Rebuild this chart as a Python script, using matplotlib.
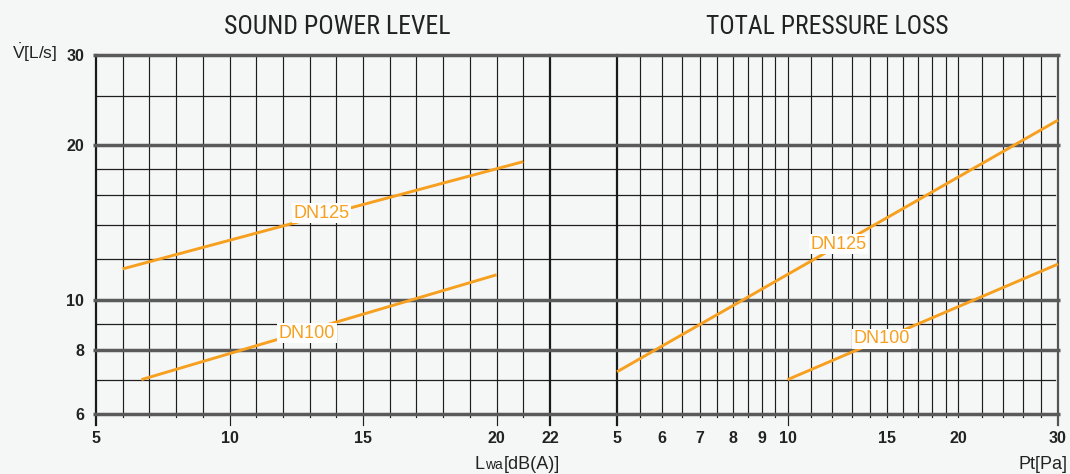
import matplotlib
matplotlib.use('Agg')
import matplotlib.pyplot as plt
from matplotlib import font_manager, transforms
from matplotlib.lines import Line2D
from matplotlib.ticker import NullLocator, FixedLocator, FixedFormatter

# ---------------- data ----------------
y_tick_values = [6, 8, 10, 20, 30]
y_tick_labels = ['6', '8', '10', '20', '30']
y_thick_lines = [6, 8, 10, 20, 30]
y_thin_lines = [7, 9, 12, 14, 16, 18, 25]

left_x_ticks = [5, 10, 15, 20, 22]
left_x_labels = ['5', '10', '15', '20', '22']
left_x_grid = list(range(5, 23))

right_x_ticks = [5, 6, 7, 8, 9, 10, 15, 20, 30]
right_x_labels = ['5', '6', '7', '8', '9', '10', '15', '20', '30']
right_x_grid = [5, 5.5, 6, 6.5, 7, 7.5, 8, 8.5, 9, 9.5, 10, 11, 12, 13, 14,
                15, 16, 17, 18, 19, 20, 22, 24, 26, 28, 30]
right_long_ticks = [5, 10, 30]

# Sound power level curves (Lwa [dB(A)] vs V [L/s])
lwa_dn125_x = [6.0, 21.0]
lwa_dn125_y = [11.5, 18.6]
lwa_dn100_x = [6.7, 20.0]
lwa_dn100_y = [7.0, 11.2]
# Total pressure loss curves (Pt [Pa] vs V [L/s])
pt_dn125_x = [5.0, 30.0]
pt_dn125_y = [7.25, 22.4]
pt_dn100_x = [10.0, 30.0]
pt_dn100_y = [7.0, 11.75]

titles = ['SOUND POWER LEVEL', 'TOTAL PRESSURE LOSS']
series_names = ['DN125', 'DN100']

# ---------------- style ----------------
W, H, DPI = 1070, 474, 100
BG = '#f5f7f6'
ORANGE = '#f7a01f'
THICK_H = '#5a5a5a'
THIN = '#1e1e1e'
TXT = '#222222'

names = {f.name for f in font_manager.fontManager.ttflist}
SANS = 'Liberation Sans' if 'Liberation Sans' in names else 'DejaVu Sans'
NARROW = None
for cand in ['Liberation Sans Narrow', 'Roboto Condensed', 'Open Sans Condensed',
             'DejaVu Sans Condensed']:
    if cand in names:
        NARROW = cand
        break
if NARROW is None:
    NARROW = 'Roboto' if 'Roboto' in names else SANS

plt.rcParams['font.family'] = [SANS, 'DejaVu Sans']
plt.rcParams['mathtext.fontset'] = 'custom'
plt.rcParams['mathtext.rm'] = SANS
plt.rcParams['mathtext.it'] = SANS + ':italic'
plt.rcParams['mathtext.bf'] = SANS + ':bold'

fig = plt.figure(figsize=(W / DPI, H / DPI), dpi=DPI, facecolor=BG)


def px_rect(x0, x1, y0, y1):
    return [x0 / W, 1 - y1 / H, (x1 - x0) / W, (y1 - y0) / H]


X0, X1, Y0, Y1 = 96, 1058, 55, 414
LX1, RX0 = 550, 617

ax = fig.add_axes(px_rect(X0, X1, Y0, Y1), zorder=0)
ax.set_facecolor(BG)
ax.set_yscale('log')
ax.set_xlim(0, 1)
ax.set_ylim(6, 30)
for s in ax.spines.values():
    s.set_visible(False)
ax.set_xticks([])
ax.yaxis.set_major_locator(FixedLocator(y_tick_values))
ax.yaxis.set_major_formatter(FixedFormatter(y_tick_labels))
ax.yaxis.set_minor_locator(NullLocator())
ax.tick_params(axis='y', length=0, pad=8.4, labelsize=11.5, labelcolor=TXT)
for t in ax.get_yticklabels():
    t.set_fontweight('bold')

axL = fig.add_axes(px_rect(X0, LX1, Y0, Y1), zorder=1)
axR = fig.add_axes(px_rect(RX0, X1, Y0, Y1), zorder=1)
axR.set_xscale('log')
for a, xl, ticks, labels in [(axL, (5, 22), left_x_ticks, left_x_labels),
                             (axR, (5, 30), right_x_ticks, right_x_labels)]:
    a.patch.set_visible(False)
    a.set_yscale('log')
    a.set_ylim(6, 30)
    a.set_xlim(*xl)
    for s in a.spines.values():
        s.set_visible(False)
    a.set_yticks([])
    a.yaxis.set_minor_locator(NullLocator())
    a.xaxis.set_major_locator(FixedLocator(ticks))
    a.xaxis.set_major_formatter(FixedFormatter(labels))
    a.xaxis.set_minor_locator(NullLocator())
    a.tick_params(axis='x', length=0, pad=12.0, labelsize=11.5, labelcolor=TXT)
    for t in a.get_xticklabels():
        t.set_fontweight('bold')

span_w = X1 - X0
span_h = Y1 - Y0


def add(line):
    ax.add_artist(line)


# horizontal lines
for v in y_thin_lines:
    add(Line2D([0, (1055 - X0) / span_w], [v, v], color=THIN, lw=0.9,
               transform=ax.get_yaxis_transform(), clip_on=False, zorder=1.5))
for v in y_thick_lines:
    add(Line2D([-3 / span_w, 1 + 2 / span_w], [v, v], color=THICK_H, lw=2.5,
               transform=ax.get_yaxis_transform(), clip_on=False, zorder=2.5,
               solid_capstyle='butt'))

# vertical lines
trL = transforms.blended_transform_factory(axL.transData, ax.transAxes)
trR = transforms.blended_transform_factory(axR.transData, ax.transAxes)
short = -3 / span_h
long_ = -11 / span_h
for x in left_x_grid:
    y0 = long_ if x in left_x_ticks else short
    if x in (5, 22):
        add(Line2D([x, x], [y0, 1], color='#1a1a1a', lw=1.6, transform=trL,
                   clip_on=False, zorder=2))
    else:
        add(Line2D([x, x], [y0, 1], color=THIN, lw=0.85, transform=trL,
                   clip_on=False, zorder=1))
for x in right_x_grid:
    y0 = long_ if x in right_long_ticks else short
    if x == 5:
        add(Line2D([x, x], [y0, 1], color='#1a1a1a', lw=1.6, transform=trR,
                   clip_on=False, zorder=2))
    elif x == 30:
        add(Line2D([x, x], [y0, 1], color='#555555', lw=1.6, transform=trR,
                   clip_on=False, zorder=2))
    else:
        add(Line2D([x, x], [y0, 1], color=THIN, lw=0.85, transform=trR,
                   clip_on=False, zorder=1))

# curves
for xs, ys, a in [(lwa_dn125_x, lwa_dn125_y, axL), (lwa_dn100_x, lwa_dn100_y, axL),
                  (pt_dn125_x, pt_dn125_y, axR), (pt_dn100_x, pt_dn100_y, axR)]:
    add(Line2D(xs, ys, color=ORANGE, lw=2.1, transform=a.transData,
               clip_on=False, zorder=4, solid_capstyle='butt'))

# curve labels
lab_kw = dict(color=ORANGE, fontsize=13, ha='center', va='center', zorder=5,
              bbox=dict(facecolor='white', edgecolor='none', pad=1.0))
ax.text(13.45, 14.75, series_names[0], transform=axL.transData, **lab_kw)
ax.text(12.9, 8.62, series_names[1], transform=axL.transData, **lab_kw)
ax.text(12.32, 12.85, series_names[0], transform=axR.transData, **lab_kw)
ax.text(14.65, 8.41, series_names[1], transform=axR.transData, **lab_kw)

fig.canvas.draw()
renderer = fig.canvas.get_renderer()


def fit_text(xc, yb, s, target_w, size, **kw):
    t = fig.text(xc / W, 1 - yb / H, s, ha='center', va='baseline',
                 fontsize=size, **kw)
    w = t.get_window_extent(renderer).width
    t.set_fontsize(size * target_w / w)
    return t


# titles (fitted to the reference widths)
fit_text(337, 34.3, titles[0], 225, 17.6, family=NARROW, color=TXT)
fit_text(827, 34.3, titles[1], 242, 17.6, family=NARROW, color=TXT)

# y-axis label: V with a dot above (flow rate), then [L/s]
fig.text(12 / W, 1 - 59.3 / H, r'$\dot{\mathrm{V}}$[L/s]', ha='left',
         va='baseline', fontsize=12.5, color=TXT)

fig.text(1068 / W, 1 - 468.8 / H, 'Pt[Pa]', ha='right', va='baseline',
         fontsize=13, color=TXT)

# Lwa[dB(A)] built from pieces on a common baseline
xcur = 475
base_y = 1 - 468.8 / H
for part, size in [('L', 13), ('wa', 10), ('[dB(A)]', 13)]:
    t = fig.text(xcur / W, base_y, part, ha='left', va='baseline',
                 fontsize=size, color=TXT)
    bb = t.get_window_extent(renderer)
    xcur = bb.x1 + 0.5

fig.savefig('out.png', dpi=DPI, facecolor=BG)
